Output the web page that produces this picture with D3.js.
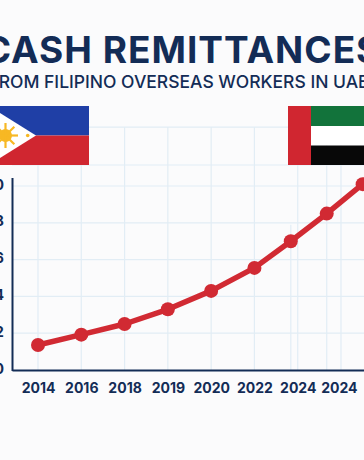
<!DOCTYPE html>
<html>
<head>
<meta charset="utf-8">
<script src="https://cdn.jsdelivr.net/npm/d3@7"></script>
<style>
html, body { margin: 0; padding: 0; background: #fbfbfc; overflow: hidden; }
svg { display: block; }
text { font-family: Inter, "Liberation Sans", sans-serif; fill: #132c56; }
</style>
</head>
<body>
<div id="chart"></div>
<script>
// values
var pointSlots = [0, 1, 2, 3, 4, 5, 5.84, 6.67, 7.5];
var remittances = [1.36, 1.92, 2.5, 3.3, 4.3, 5.55, 7.0, 8.5, 10.1];
var tickSlots = [0, 1, 2, 3, 4, 5, 6, 6.95];
var tickYears = ["2014", "2016", "2018", "2019", "2020", "2022", "2024", "2024"];
var yTicks = [0, 2, 4, 6, 8, 10];
var gridSlots = [0, 1, 2, 3, 4, 5, 5.84, 6, 6.67, 7];
var extraGridValues = [11.14, 13.2];

var width = 364, height = 460;
var navy = "#132c56", red = "#d12a33", gridColor = "#e2edf5";

var svg = d3.select("#chart").append("svg")
    .attr("width", width)
    .attr("height", height);

// scales
var scaleX = d3.scaleLinear().domain([0, 7]).range([38, 341]);
var scaleY = d3.scaleLinear().domain([0, 10]).range([370, 186]);

// title
svg.append("text")
    .attr("x", 182.5).attr("y", 63)
    .attr("text-anchor", "middle")
    .attr("font-size", 37).attr("font-weight", 700)
    .style("letter-spacing", "1px")
    .text("CASH REMITTANCES");

svg.append("text")
    .attr("x", 178.5).attr("y", 88)
    .attr("text-anchor", "middle")
    .attr("font-size", 17.5).attr("font-weight", 500)
    .text("FROM FILIPINO OVERSEAS WORKERS IN UAE");

// grid
var grid = svg.append("g").attr("stroke", gridColor).attr("stroke-width", 1.2);

grid.selectAll(".h")
    .data(yTicks.slice(1).concat(extraGridValues))
    .enter().append("line")
    .attr("x1", scaleX.range()[0] - 26)
    .attr("x2", width)
    .attr("y1", function (d) { return scaleY(d); })
    .attr("y2", function (d) { return scaleY(d); });

grid.selectAll(".v")
    .data(gridSlots)
    .enter().append("line")
    .attr("x1", function (d) { return scaleX(d); })
    .attr("x2", function (d) { return scaleX(d); })
    .attr("y1", function (d) { return d === 5.84 ? scaleY(7.9) : (d === 0 || d === 1 ? scaleY(11.14) : scaleY(13.2)); })
    .attr("y2", scaleY(0));

// flags
var ph = svg.append("g");
ph.append("rect").attr("x", -20).attr("y", 106).attr("width", 109).attr("height", 29.5).attr("fill", "#1f3fa6");
ph.append("rect").attr("x", -20).attr("y", 135.5).attr("width", 109).attr("height", 29.5).attr("fill", "#d02630");
ph.append("path").attr("d", "M-11,106L36,135.5L-11,165Z").attr("fill", "#ffffff");
ph.append("circle").attr("cx", 5.5).attr("cy", 135.5).attr("r", 6.5).attr("fill", "#f7b824");
d3.range(8).forEach(function (i) {
    var a = i * Math.PI / 4;
    ph.append("line")
        .attr("x1", 5.5).attr("y1", 135.5)
        .attr("x2", 5.5 + 12.5 * Math.cos(a)).attr("y2", 135.5 + 12.5 * Math.sin(a))
        .attr("stroke", "#f7b824").attr("stroke-width", 2.2);
});
ph.append("circle").attr("cx", 27.7).attr("cy", 135.5).attr("r", 1.8).attr("fill", "#f7b824");

var uae = svg.append("g");
uae.append("rect").attr("x", 288).attr("y", 106).attr("width", 23).attr("height", 59).attr("fill", "#d02630");
uae.append("rect").attr("x", 311).attr("y", 106).attr("width", 53).attr("height", 20).attr("fill", "#12733b");
uae.append("rect").attr("x", 311).attr("y", 126).attr("width", 53).attr("height", 19.5).attr("fill", "#ffffff");
uae.append("rect").attr("x", 311).attr("y", 145.5).attr("width", 53).attr("height", 19.5).attr("fill", "#080808");

// axes
var axisX = d3.axisBottom(scaleX)
    .tickValues(tickSlots)
    .tickFormat(function (d, i) { return tickYears[i]; })
    .tickSize(0).tickPadding(13);

var axisY = d3.axisLeft(scaleY)
    .tickValues(yTicks)
    .tickSize(0).tickPadding(8.5);

var gx = svg.append("g").attr("transform", "translate(0,370)").call(axisX);
gx.select(".domain").remove();
gx.selectAll("text").attr("font-size", 14).attr("font-weight", 700).style("font-family", "Inter, sans-serif");

svg.append("line")
    .attr("x1", 12.5).attr("x2", width)
    .attr("y1", 370.5).attr("y2", 370.5)
    .attr("stroke", navy).attr("stroke-width", 2);

var gy = svg.append("g").attr("transform", "translate(12.5,-1.5)").call(axisY);
gy.select(".domain").remove();
gy.selectAll("text").attr("font-size", 14.5).attr("font-weight", 700).style("font-family", "Inter, sans-serif");

svg.append("line")
    .attr("x1", 12.5).attr("x2", 12.5)
    .attr("y1", 178).attr("y2", 371)
    .attr("stroke", navy).attr("stroke-width", 2);

// line and points
var line = d3.line()
    .x(function (d) { return scaleX(d[0]); })
    .y(function (d) { return scaleY(d[1]); });

var series = d3.zip(pointSlots, remittances);

svg.append("path")
    .datum(series)
    .attr("d", line)
    .attr("fill", "none")
    .attr("stroke", red)
    .attr("stroke-width", 5.5)
    .attr("stroke-linejoin", "round");

svg.selectAll(".dot")
    .data(series)
    .enter().append("circle")
    .attr("class", "dot")
    .attr("cx", function (d) { return scaleX(d[0]); })
    .attr("cy", function (d) { return scaleY(d[1]); })
    .attr("r", 7)
    .attr("fill", red);
</script>
</body>
</html>
